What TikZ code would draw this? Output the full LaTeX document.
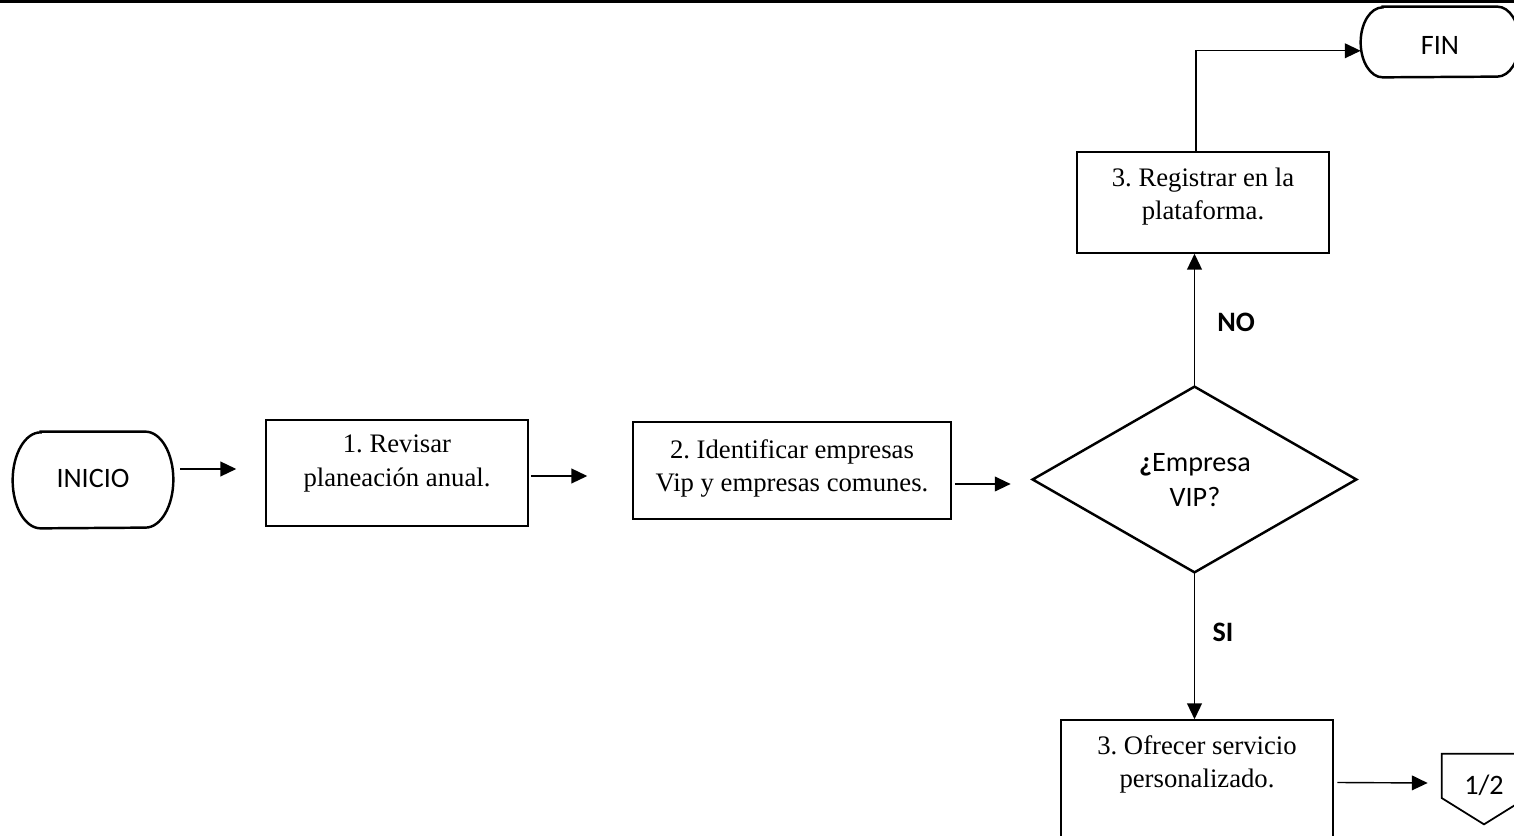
\documentclass[tikz,border=0pt]{standalone}
\usepackage{fontspec}
\setmainfont{Liberation Serif}
\newfontfamily\calib{Carlito}
\usetikzlibrary{arrows.meta,fit}
\frenchspacing

\begin{document}
\begin{tikzpicture}[x=0.02cm,y=0.02cm,
  proc/.style={draw, line width=0.85pt, inner sep=0pt},
  frame/.style={inner sep=0pt},
  shapeline/.style={line width=1.4pt},
  ptext/.style={align=center, font=\fontsize{15.2}{18.8}\selectfont, inner sep=0pt},
  ctext/.style={align=center, font=\calib\fontsize{16}{19.9}\selectfont, inner sep=0pt},
  lbl/.style={font=\calib\bfseries\fontsize{16}{19}\selectfont, inner sep=0pt},
  arr/.style={line width=0.8pt, -{Triangle[length=9pt,width=8.4pt]}}]
\useasboundingbox (0,0) rectangle (1514,835);
\fill[white] (0,0) rectangle (1514,835);

% heavy rule along the top edge
\draw[line width=2pt] (0,834) -- (1514,834);

% start terminator
\node[frame, fit={(13,307) (173,403)}] (ini) {};
\draw[shapeline] ([xshift=0.56cm]ini.north west) -- ([xshift=-0.56cm]ini.north east)
  arc[start angle=90, end angle=-90, x radius=0.56cm, y radius=0.96cm]
  -- ([xshift=0.56cm]ini.south west)
  arc[start angle=270, end angle=90, x radius=0.56cm, y radius=0.96cm] -- cycle;
\node[ctext] (initxt) at (93,357) {INICIO};

% process boxes
\node[proc, fit={(266,309) (528,415)}] (b1) {};
\node[ptext] (b1t) at (397,371.5) {1. Revisar\\planeación anual.};

\node[proc, fit={(633,316) (951,413)}] (b2) {};
\node[ptext] (b2t) at (792,366.5) {2. Identificar empresas\\Vip y empresas comunes.};

\node[proc, fit={(1077,582) (1329,683)}] (b3) {};
\node[ptext] (b3t) at (1203,638.5) {3. Registrar en la\\plataforma.};

\node[proc, fit={(1061,-10) (1333,115)}] (b4) {};
\node[ptext] (b4t) at (1197,71) {3. Ofrecer servicio\\personalizado.};

% decision
\node[frame, fit={(1033,263) (1356,448)}] (dia) {};
\draw[shapeline] (dia.north) -- (dia.east) -- (dia.south) -- (dia.west) -- cycle;
\node[ctext] (diat) at (1195,354.5) {{\bfseries ¿}Empresa\\VIP?};

% end terminator
\node[frame, fit={(1361,758) (1519,828)}] (fin) {};
\draw[shapeline] ([xshift=0.44cm]fin.north west) -- ([xshift=-0.44cm]fin.north east)
  arc[start angle=90, end angle=-90, x radius=0.44cm, y radius=0.7cm]
  -- ([xshift=0.44cm]fin.south west)
  arc[start angle=270, end angle=90, x radius=0.44cm, y radius=0.7cm] -- cycle;
\node[ctext] (fint) at (1440,790) {FIN};

% off-page connector
\node[frame, fit={(1442,11) (1526,81)}] (opc) {};
\draw[line width=1pt] (opc.north west) -- (opc.north east)
  -- ([yshift=15]opc.south east) -- (opc.south) -- ([yshift=15]opc.south west) -- cycle;
\node[ctext] (opct) at (1484,50) {1/2};

% branch labels
\node[lbl] (no) at (1236,513) {NO};
\node[lbl] (si) at (1223,203) {SI};

% connectors
\draw[arr] ([shift={(7,11)}]ini.east) -- ([shift={(-29,4)}]b1.west);
\draw[arr] ([shift={(2,-3)}]b1.east) -- ([shift={(-45,-5.5)}]b2.west);
\draw[arr] ([shift={(3,-13.5)}]b2.east) -- ([shift={(-22,-4.5)}]dia.west);
\draw[arr] (dia.north) -- (dia.north |- b3.south);
\draw[arr] ([xshift=-4]b3.north) |- ([yshift=-5]fin.west);
\draw[arr] (dia.south) -- (dia.south |- b4.north);
\draw[arr] ([xshift=2]b4.east) -- ([shift={(-14,6)}]opc.west);
\end{tikzpicture}
\end{document}
